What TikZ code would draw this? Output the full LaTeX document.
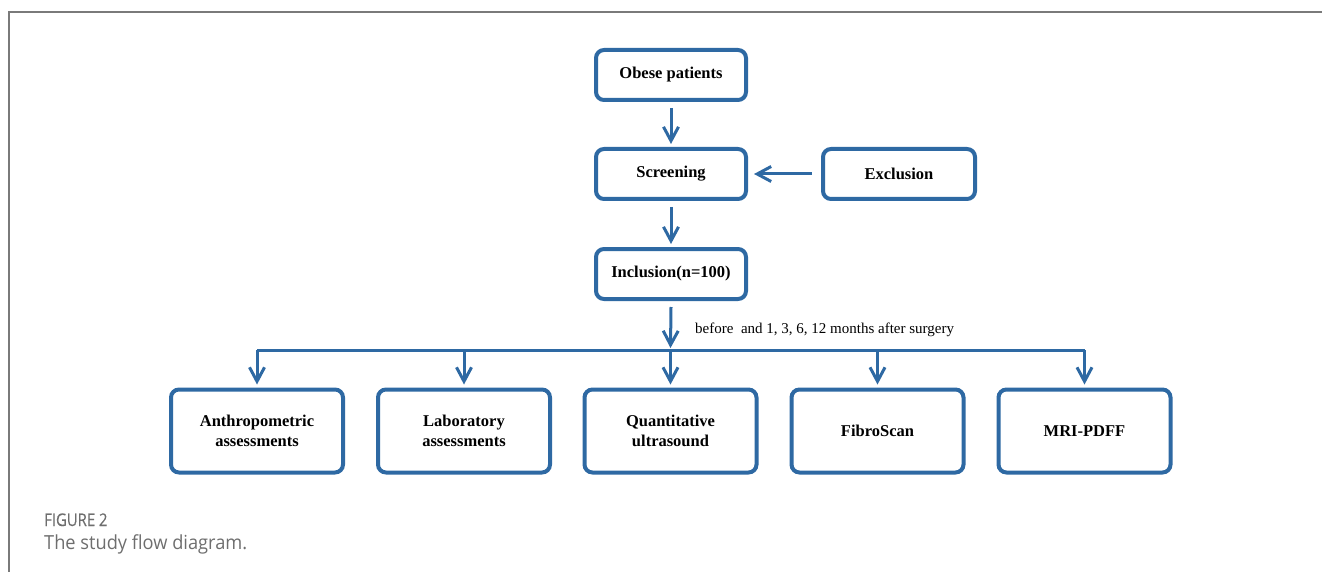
\documentclass[tikz,border=0pt]{standalone}
\usepackage{fontspec}
\setmainfont{Liberation Serif}
\newfontfamily\capfont[FakeStretch=0.94]{Open Sans}
\newfontfamily\capfontsb[FakeBold=0.4, FakeStretch=0.85]{Open Sans}
\usetikzlibrary{arrows.meta}
\definecolor{boxblue}{HTML}{2E69A3}
\definecolor{framegray}{HTML}{7A7A7A}
\definecolor{capgray}{HTML}{6E6E6E}
\tikzset{
  flowbox/.style={draw=boxblue, line width=4pt, rounded corners=8pt, fill=white,
    minimum width=150pt, minimum height=50pt, align=center,
    font=\fontsize{16.5}{20}\selectfont\bfseries, inner sep=2pt},
  bigbox/.style={flowbox, minimum width=172pt, minimum height=83pt},
  conn/.style={draw=boxblue, line width=3pt},
  arr/.style={conn, -{Straight Barb[length=14pt, width=15pt, line width=3pt]}},
}
\begin{document}
\begin{tikzpicture}[x=1pt, y=-1pt]
\useasboundingbox (0,0) rectangle (1322,572);
% frame
\draw[framegray, line width=1.6pt] (9,572) -- (9,12) -- (1322,12);
% nodes
\node[flowbox] (obese) at (671,75) {Obese patients};
\node[flowbox] (screen) at (671,174) {Screening};
\node[flowbox, minimum width=152pt] (excl) at (899,174) {Exclusion};
\node[flowbox] (incl) at (671,274) {Inclusion(n=100)};
\node[bigbox] (b1) at (257,431) {Anthropometric\\assessments};
\node[bigbox] (b2) at (464,431) {Laboratory\\assessments};
\node[bigbox] (b3) at (670.5,431) {Quantitative\\ultrasound};
\node[bigbox] (b4) at (877.5,431) {FibroScan};
\node[bigbox] (b5) at (1084.5,431) {MRI-PDFF};
% bus coordinates
\coordinate (busL) at (257,350);
\coordinate (busM) at (670.5,348);
\coordinate (busR) at (1084.5,350);
\coordinate (exclA) at (812,174);
% connectors
\draw[arr] ([yshift=-6pt]obese.south) -- ([yshift=3pt]screen.north);
\draw[arr] ([yshift=-6pt]screen.south) -- ([yshift=3pt]incl.north);
\draw[arr] (exclA) -- ([xshift=6pt]screen.east);
\draw[arr] ([yshift=-6pt]incl.south) -- (busM);
\draw[conn] (busL) -- (busR);
\foreach \b/\x in {b1/257,b2/464,b3/670.5,b4/877.5,b5/1084.5}{
  \draw[arr] (\x,350) -- ([yshift=3pt]\b.north);
}
\node[anchor=west, font=\fontsize{15}{17}\selectfont, inner sep=0pt] (lbl) at (695,330) {before\ \ and 1, 3, 6, 12 months after surgery};
% caption
\node[anchor=base west, inner sep=0pt, text=capgray, font=\capfontsb\fontsize{17.5}{20}\selectfont] (fig) at (44,526) {FIGURE 2};
\node[anchor=base west, inner sep=0pt, text=capgray, font=\capfont\fontsize{19.4}{22}\selectfont] (cap) at (44,549) {The study flow diagram.};
\end{tikzpicture}
\end{document}
